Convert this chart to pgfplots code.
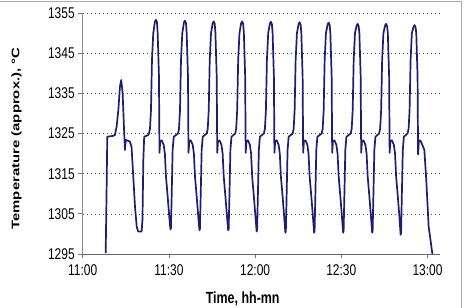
\documentclass[border=0pt]{standalone}
\usepackage{pgfplots}
\pgfplotsset{compat=1.18}
\usepackage{pgfplotstable}
\usepackage{graphicx}
\usepackage{fontspec}
\setmainfont{Liberation Sans}

\definecolor{navyline}{RGB}{30,30,112}
\definecolor{gridgray}{RGB}{85,85,85}
\definecolor{framegray}{RGB}{170,170,170}

% furnace temperature log, minutes after 11:00
\pgfplotstableread{
t T
8.00 1295.2
8.30 1310.0
8.55 1324.2
9.50 1324.3
10.50 1324.4
11.20 1324.6
11.80 1326.7
12.40 1330.8
12.96 1336.7
13.40 1338.3
13.90 1335.0
14.35 1326.7
14.70 1320.9
15.00 1323.4
16.40 1323.0
17.00 1321.7
17.60 1314.3
18.20 1306.8
18.80 1301.8
19.30 1300.6
20.50 1300.6
20.80 1303.5
21.10 1318.4
21.40 1324.2
22.80 1324.6
23.07 1325.0
23.42 1326.2
23.76 1330.8
24.11 1343.3
24.56 1350.0
25.15 1352.9
25.50 1353.3
25.85 1352.7
26.09 1350.0
26.54 1339.2
26.72 1320.2
26.99 1323.1
27.50 1323.3
28.18 1322.2
28.60 1320.0
28.98 1314.3
29.57 1309.3
30.12 1304.3
30.54 1301.1
30.70 1301.5
30.96 1309.3
31.30 1320.9
31.68 1324.2
33.17 1325.0
33.52 1326.2
33.86 1330.8
34.21 1343.3
34.66 1350.0
35.25 1352.7
35.60 1353.1
35.95 1352.5
36.19 1350.0
36.64 1339.2
36.82 1320.2
37.09 1323.1
37.60 1323.3
38.28 1322.2
38.70 1320.0
39.08 1314.3
39.67 1309.3
40.22 1304.3
40.64 1300.9
40.80 1301.3
41.06 1309.3
41.40 1320.9
41.78 1324.2
43.17 1325.0
43.52 1326.2
43.86 1330.8
44.21 1343.3
44.66 1350.0
45.25 1352.5
45.60 1352.9
45.95 1352.3
46.19 1350.0
46.64 1339.2
46.82 1320.2
47.09 1323.1
47.60 1323.3
48.28 1322.2
48.70 1320.0
49.08 1314.3
49.67 1309.3
50.22 1304.3
50.64 1300.9
50.80 1301.3
51.06 1309.3
51.40 1320.9
51.78 1324.2
53.07 1325.0
53.42 1326.2
53.76 1330.8
54.11 1343.3
54.56 1350.0
55.15 1352.5
55.50 1352.9
55.85 1352.3
56.09 1350.0
56.54 1339.2
56.72 1320.2
56.99 1323.1
57.50 1323.3
58.18 1322.2
58.60 1320.0
58.98 1314.3
59.57 1309.3
60.12 1304.3
60.54 1300.6
60.70 1301.0
60.96 1309.3
61.30 1320.9
61.68 1324.2
63.07 1325.0
63.42 1326.2
63.76 1330.8
64.11 1343.3
64.56 1350.0
65.15 1352.4
65.50 1352.8
65.85 1352.2
66.09 1350.0
66.54 1339.2
66.72 1320.2
66.99 1323.1
67.50 1323.3
68.18 1322.2
68.60 1320.0
68.98 1314.3
69.57 1309.3
70.12 1304.3
70.54 1300.3
70.70 1300.7
70.96 1309.3
71.30 1320.9
71.68 1324.2
73.07 1325.0
73.42 1326.2
73.76 1330.8
74.11 1343.3
74.56 1350.0
75.15 1352.3
75.50 1352.7
75.85 1352.1
76.09 1350.0
76.54 1339.2
76.72 1320.2
76.99 1323.1
77.50 1323.3
78.18 1322.2
78.60 1320.0
78.98 1314.3
79.57 1309.3
80.12 1304.3
80.54 1300.3
80.70 1300.7
80.96 1309.3
81.30 1320.9
81.68 1324.2
83.17 1325.0
83.52 1326.2
83.86 1330.8
84.21 1343.3
84.66 1350.0
85.25 1352.2
85.60 1352.6
85.95 1352.0
86.19 1350.0
86.64 1339.2
86.82 1320.2
87.09 1323.1
87.60 1323.3
88.28 1322.2
88.70 1320.0
89.08 1314.3
89.67 1309.3
90.22 1304.3
90.64 1300.3
90.80 1300.7
91.06 1309.3
91.40 1320.9
91.78 1324.2
93.27 1325.0
93.62 1326.2
93.96 1330.8
94.31 1343.3
94.76 1350.0
95.35 1351.9
95.70 1352.3
96.05 1351.7
96.29 1350.0
96.74 1339.2
96.92 1320.2
97.19 1323.1
97.70 1323.3
98.38 1322.2
98.80 1320.0
99.18 1314.3
99.77 1309.3
100.32 1304.3
100.74 1300.3
100.90 1300.7
101.16 1309.3
101.50 1320.9
101.88 1324.2
103.17 1325.0
103.52 1326.2
103.86 1330.8
104.21 1343.3
104.66 1350.0
105.25 1351.9
105.60 1352.3
105.95 1351.7
106.19 1350.0
106.64 1339.2
106.82 1320.2
107.09 1323.1
107.60 1323.3
108.28 1322.2
108.70 1320.0
109.08 1314.3
109.67 1309.3
110.22 1304.3
110.64 1299.8
110.80 1300.2
111.06 1309.3
111.40 1320.9
111.78 1324.2
113.07 1325.0
113.42 1326.2
113.76 1330.8
114.11 1343.3
114.56 1350.0
115.15 1351.6
115.50 1352.0
115.85 1351.4
116.09 1350.0
116.54 1339.2
116.72 1319.8
116.99 1323.1
117.50 1323.3
118.18 1322.2
118.90 1320.9
119.50 1314.3
120.10 1306.0
120.40 1301.8
120.90 1299.3
121.50 1296.0
121.80 1294.5
}\templog

\begin{document}
\begin{tikzpicture}
\path[use as bounding box] (0,0) rectangle (466bp,308bp);
\draw[framegray, line width=0.8bp] (0,306.8bp) -- (461.2bp,306.8bp) -- (461.2bp,0);
\begin{axis}[
  at={(82.7bp,54bp)}, anchor=south west,
  scale only axis, width=356.3bp, height=241bp,
  xmin=0, xmax=124, ymin=1295, ymax=1355,
  axis lines=left,
  axis line style={-},
  x axis line style={black!60, line width=0.8bp},
  y axis line style={black!45, line width=0.8bp},
  xtick={0,30,60,90,120},
  xticklabels={\scalebox{1}[1.3]{11:00},\scalebox{1}[1.3]{11:30},\scalebox{1}[1.3]{12:00},\scalebox{1}[1.3]{12:30},\scalebox{1}[1.3]{13:00}},
  ytick={1295,1305,...,1355},
  yticklabel={\scalebox{1}[1.3]{\pgfmathprintnumber{\tick}}},
  /pgf/number format/1000 sep={},
  /pgf/number format/assume math mode=true,
  tick align=outside,
  major tick length=4.5bp,
  tick style={black!55, line width=0.7bp},
  ticklabel style={font=\fontsize{12}{14}\selectfont},
  xticklabel style={yshift=-2.5bp},
  ymajorgrids,
  grid style={gridgray, line width=0.6bp, dash pattern=on 1.2bp off 2.8bp},
  xlabel={\scalebox{1}[1.3]{\bfseries Time, hh-mn}},
  xlabel style={at={(axis description cs:0.449,-0.187)}, anchor=center, font=\fontsize{12.5}{14}\selectfont},
  ylabel={\scalebox{1.36}[1]{\bfseries Temperature (approx.), °C}},
  ylabel style={at={(axis description cs:-0.186,0.479)}, anchor=center, font=\fontsize{11}{13}\selectfont},
  clip=true,
]
\addplot[navyline, line width=1.7bp, line join=round] table[x=t, y=T] {\templog};
\end{axis}
\end{tikzpicture}
\end{document}
